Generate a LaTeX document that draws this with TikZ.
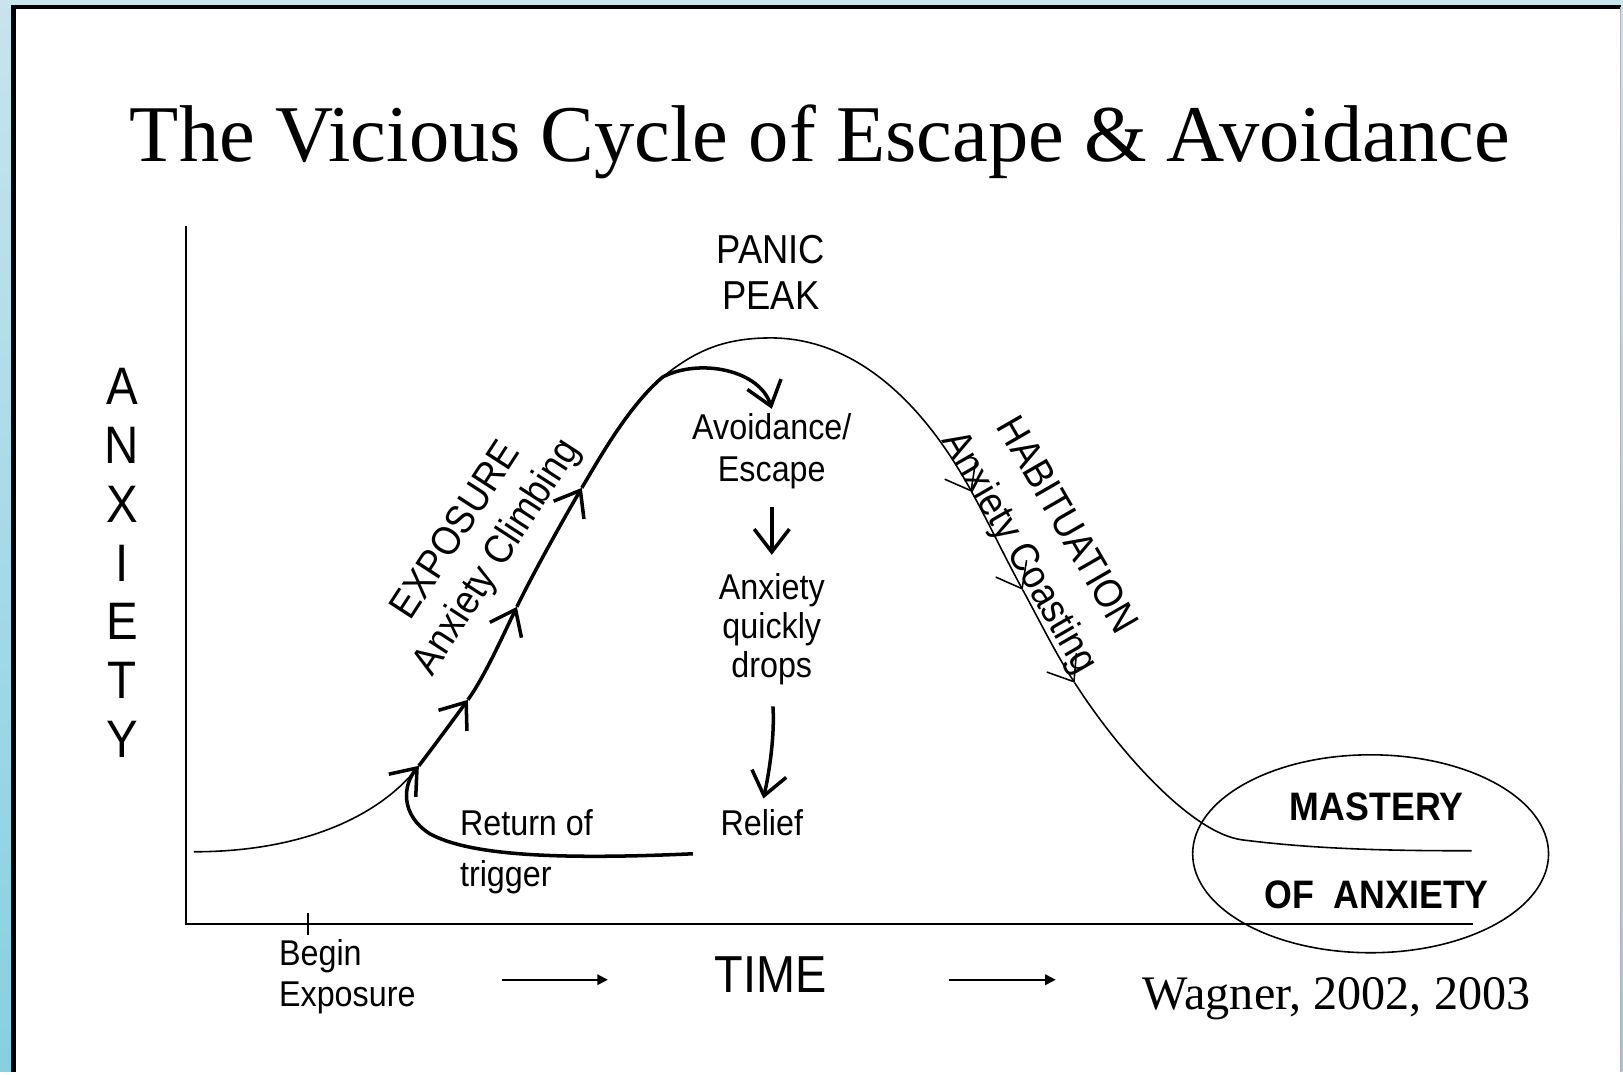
\documentclass[tikz,border=0pt]{standalone}
\usepackage{fontspec}
\setmainfont{Liberation Serif}
\setsansfont{Liberation Sans}[FakeStretch=0.9]
\usetikzlibrary{arrows.meta}
\definecolor{frametop}{RGB}{200,228,236}
\definecolor{framebot}{RGB}{135,208,224}

\begin{document}
\begin{tikzpicture}[x=0.01cm, y=-0.01cm,
    txt/.style={font=\sffamily\fontsize{10.2}{#1}\selectfont, align=center, inner sep=1pt},
    txt/.default=12,
    big/.style={font=\sffamily\fontsize{11.5}{#1}\selectfont, align=center, inner sep=1pt},
    big/.default=13.1,
    bold/.style={font=\sffamily\bfseries\fontsize{11.3}{13}\selectfont, inner sep=1pt},
    curveline/.style={line width=0.45pt},
    climbline/.style={line width=1pt},
    barb/.style={-{Straight Barb[length=6.5pt,width=10pt]}},
    timearrow/.style={line width=0.5pt, -{Triangle[length=3pt,width=3pt]}}]
    % frame
    \shade[top color=frametop, bottom color=framebot] (0,0) rectangle (1623,1072);
    \fill[white] (11,5) rectangle (1621,1072);
    \draw[line width=1.4pt] (13.5,1072) -- (13.5,7) -- (1621,7);
    \draw[gray!60, line width=0.3pt] (1621,7) -- (1621,1072);
    \useasboundingbox (0,0) rectangle (1623,1072);

    \node(title)[anchor=base, font=\fontsize{22.9}{27}\selectfont] at (820,162) {The Vicious Cycle of Escape \& Avoidance};

    % axes
    \coordinate(ytop) at (186,226);
    \coordinate(origin) at (186,924);
    \coordinate(xend) at (1473,924);
    \draw[line width=0.55pt] (ytop) -- (origin) -- (xend);
    \draw[line width=0.55pt] (308,913) -- (308,935);
    \foreach \ch [count=\i from 0] in {A,N,X,I,E,T,Y}
        \node(ax\i)[font=\sffamily\fontsize{15}{18}\selectfont, inner sep=0pt] at (122,{386+59*\i}) {\ch};

    % the curve
    \coordinate(c0) at (194,852);
    \coordinate(t0) at (419,766);
    \coordinate(t1) at (468,700);
    \coordinate(t2) at (517,607);
    \coordinate(t3) at (582,488);
    \coordinate(esc) at (663,377);
    \coordinate(peak) at (771,338);
    \coordinate(h1) at (972,492);
    \coordinate(h2) at (1023,590);
    \coordinate(h3) at (1075,683);
    \coordinate(c1) at (1242,840);
    \coordinate(c2) at (1472,851);
    \draw[curveline] (c0) .. controls (300,852) and (379,818) .. (t0);
    \draw[climbline, barb] (t0) .. controls (435,745) and (452,722) .. (t1);
    \draw[climbline, barb] (t1) .. controls (484,678) and (502,638) .. (t2);
    \draw[climbline, barb] (t2) .. controls (532,576) and (562,522) .. (t3);
    \draw[climbline] (t3) .. controls (602,454) and (630,405) .. (esc);
    \draw[curveline, barb] (esc) .. controls (693,353) and (721,338) .. (peak) .. controls (841,338) and (912,383) .. (h1);
    \draw[curveline, barb] (h1) .. controls (990,525) and (1005,557) .. (h2);
    \draw[curveline, barb] (h2) .. controls (1041,623) and (1055,652) .. (h3);
    \draw[curveline] (h3) .. controls (1120,753) and (1192,833) .. (c1) .. controls (1320,850) and (1400,851) .. (c2);

    \node(panic)[big] at (771,272) {PANIC\\PEAK};
    \node(avoid)[txt] at (772,451) {Avoidance/\\Escape};
    \node(drops)[txt=11.1] at (772,629) {Anxiety\\quickly\\drops};
    \node(relief)[txt] at (762,823) {Relief};
    \node(ret)[txt=14.5, align=left, anchor=west] at (456,852) {Return of\\trigger};
    \node(exposure)[big=13.7, rotate=57] at (478,545) {EXPOSURE\\Anxiety Climbing};
    \node(habit)[big=15.3, rotate=-60] at (1042,540) {HABITUATION\\Anxiety Coasting};

    \draw[climbline, barb] (esc) .. controls (700,358) and (760,370) .. (avoid.north);
    \draw[climbline, barb, shorten <=4pt, shorten >=4pt] (avoid) -- (drops);
    \draw[climbline, barb, shorten <=5pt, shorten >=2pt] (drops.south) .. controls +(3,45) and +(8,-35) .. (relief.north);
    \coordinate(trig) at (693,854);
    \draw[climbline, barb] (trig) .. controls (560,860) and (470,856) .. (430,834) .. controls (400,815) and (403,785) .. (t0);

    % mastery
    \node(mastery)[bold] at (1377,807) {MASTERY};
    \node(ofanx)[bold] at (1377,895) {OF\ \ ANXIETY};
    \draw[curveline] (1371,854) ellipse [x radius=178, y radius=99];

    % time axis labels
    \node(begin)[txt=11.7, align=left, anchor=west] at (275,977) {Begin\\Exposure};
    \node(time)[font=\sffamily\fontsize{14.8}{17}\selectfont] at (771,975) {TIME};
    \coordinate(la) at (502,980);
    \coordinate(lb) at (608,980);
    \coordinate(ra) at (949,980);
    \coordinate(rb) at (1056,980);
    \draw[timearrow] (la) -- (lb);
    \draw[timearrow] (ra) -- (rb);
    \node(wagner)[anchor=base, font=\fontsize{13.7}{16}\selectfont] at (1337,1010) {Wagner, 2002, 2003};
\end{tikzpicture}
\end{document}
